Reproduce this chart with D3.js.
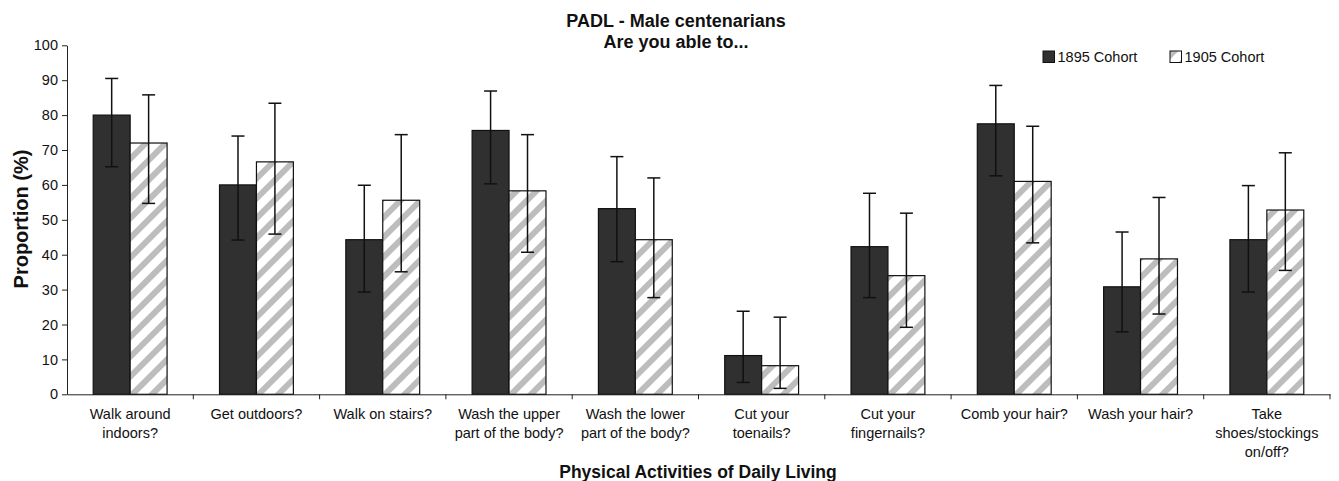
<!DOCTYPE html>
<html>
<head>
<meta charset="utf-8">
<script src="https://cdn.jsdelivr.net/npm/d3@7"></script>
<style>
  body { margin: 0; background: #fff; }
  text { font-family: "Liberation Sans", Arial, sans-serif; fill: #111; }
</style>
</head>
<body>
<svg id="chart"></svg>
<script>
// chart data
var categories = ["Walk around indoors?", "Get outdoors?", "Walk on stairs?", "Wash the upper part of the body?",
  "Wash the lower part of the body?", "Cut your toenails?", "Cut your fingernails?", "Comb your hair?",
  "Wash your hair?", "Take shoes/stockings on/off?"];
var labelLines = [["Walk around", "indoors?"], ["Get outdoors?"], ["Walk on stairs?"], ["Wash the upper", "part of the body?"],
  ["Wash the lower", "part of the body?"], ["Cut your", "toenails?"], ["Cut your", "fingernails?"], ["Comb your hair?"],
  ["Wash your hair?"], ["Take", "shoes/stockings", "on/off?"]];
var cohorts = ["1895 Cohort", "1905 Cohort"];
var values1895 = [80, 60, 44.3, 75.6, 53.2, 11.1, 42.3, 77.5, 30.8, 44.3];
var lower1895 = [65.2, 44.2, 29.3, 60.3, 38.0, 3.4, 27.7, 62.6, 17.9, 29.3];
var upper1895 = [90.5, 74.0, 59.9, 86.9, 68.1, 23.8, 57.6, 88.5, 46.5, 59.8];
var values1905 = [72.0, 66.6, 55.6, 58.3, 44.3, 8.2, 34.0, 61.0, 38.8, 52.8];
var lower1905 = [54.7, 45.9, 35.1, 40.7, 27.7, 1.7, 19.2, 43.4, 23.0, 35.5];
var upper1905 = [85.8, 83.4, 74.4, 74.4, 62.0, 22.1, 51.9, 76.8, 56.4, 69.2];
var yTicks = [0, 10, 20, 30, 40, 50, 60, 70, 80, 90, 100];

var width = 1339, height = 481;
var plotLeft = 67, plotRight = 1330, plotTop = 45.3, plotBottom = 394.3;

var svg = d3.select("#chart").attr("width", width).attr("height", height);

// hatch pattern for the 1905 bars
var defs = svg.append("defs");
var pat = defs.append("pattern")
    .attr("id", "hatch")
    .attr("patternUnits", "userSpaceOnUse")
    .attr("width", 14).attr("height", 14)
    .attr("patternTransform", "rotate(45)");
pat.append("rect").attr("width", 14).attr("height", 14).attr("fill", "#fff");
pat.append("rect").attr("x", 0).attr("width", 6).attr("height", 14).attr("fill", "#bdbdbd");

var rows = categories.map(function(c, i) {
  return {
    cat: c,
    bars: [
      {cohort: cohorts[0], v: values1895[i], lo: lower1895[i], hi: upper1895[i]},
      {cohort: cohorts[1], v: values1905[i], lo: lower1905[i], hi: upper1905[i]}
    ]
  };
});

var x0 = d3.scaleBand().domain(categories).range([plotLeft, plotRight]).padding(0);
var x1 = d3.scaleBand().domain(cohorts).range([0, x0.bandwidth()]).paddingInner(0).paddingOuter(0.71);
var y = d3.scaleLinear().domain([0, 100]).range([plotBottom, plotTop]);

// y axis
var yAxis = d3.axisLeft(y).tickValues(yTicks).tickSize(5).tickSizeOuter(0).tickPadding(4);
var yG = svg.append("g").attr("transform", "translate(" + plotLeft + ",0)").call(yAxis);
yG.selectAll("text").style("font-size", "14.5px").attr("fill", "#111");
yG.selectAll("line, path").attr("stroke", "#222");

// bars
var groups = svg.append("g").selectAll("g")
    .data(rows)
    .join("g")
    .attr("transform", function(d) { return "translate(" + x0(d.cat) + ",0)"; });

groups.selectAll("rect")
    .data(function(d) { return d.bars; })
    .join("rect")
    .attr("x", function(d) { return x1(d.cohort); })
    .attr("y", function(d) { return y(d.v); })
    .attr("width", x1.bandwidth())
    .attr("height", function(d) { return y(0) - y(d.v); })
    .attr("fill", function(d) { return d.cohort == cohorts[0] ? "#303030" : "url(#hatch)"; })
    .attr("stroke", "#111")
    .attr("stroke-width", 1.2);

// error bars
var cap = 6.5;
var err = groups.selectAll("g.err")
    .data(function(d) { return d.bars; })
    .join("g")
    .attr("class", "err")
    .attr("stroke", "#111")
    .attr("stroke-width", 1.5);
err.append("line")
    .attr("x1", function(d) { return x1(d.cohort) + x1.bandwidth() / 2; })
    .attr("x2", function(d) { return x1(d.cohort) + x1.bandwidth() / 2; })
    .attr("y1", function(d) { return y(d.lo); })
    .attr("y2", function(d) { return y(d.hi); });
err.append("line")
    .attr("x1", function(d) { return x1(d.cohort) + x1.bandwidth() / 2 - cap; })
    .attr("x2", function(d) { return x1(d.cohort) + x1.bandwidth() / 2 + cap; })
    .attr("y1", function(d) { return y(d.hi); })
    .attr("y2", function(d) { return y(d.hi); });
err.append("line")
    .attr("x1", function(d) { return x1(d.cohort) + x1.bandwidth() / 2 - cap; })
    .attr("x2", function(d) { return x1(d.cohort) + x1.bandwidth() / 2 + cap; })
    .attr("y1", function(d) { return y(d.lo); })
    .attr("y2", function(d) { return y(d.lo); });

// x axis
var xAxis = d3.axisBottom(x0).tickSize(0).tickSizeOuter(0).tickFormat("");
var xG = svg.append("g").attr("transform", "translate(0," + plotBottom + ")").call(xAxis);
xG.select("path").attr("stroke", "#222");
// ticks sit on the category boundaries
xG.selectAll("line.bound")
    .data(categories)
    .join("line")
    .attr("class", "bound")
    .attr("x1", function(d) { return x0(d) + x0.bandwidth(); })
    .attr("x2", function(d) { return x0(d) + x0.bandwidth(); })
    .attr("y1", 0).attr("y2", 5)
    .attr("stroke", "#222");

// category labels
var lab = svg.append("g").selectAll("text")
    .data(categories)
    .join("text")
    .attr("text-anchor", "middle")
    .style("font-size", "14.5px")
    .attr("transform", function(d) { return "translate(" + (x0(d) + x0.bandwidth() / 2) + "," + 419 + ")"; });
lab.selectAll("tspan")
    .data(function(d, i) { return labelLines[i]; })
    .join("tspan")
    .attr("x", 0)
    .attr("y", function(d, i) { return i * 19; })
    .text(function(d) { return d; });

// titles
svg.append("text").attr("x", 676).attr("y", 27).attr("text-anchor", "middle")
    .style("font-size", "18px").style("font-weight", "bold").text("PADL - Male centenarians");
svg.append("text").attr("x", 676).attr("y", 48).attr("text-anchor", "middle")
    .style("font-size", "18px").style("font-weight", "bold").text("Are you able to...");
svg.append("text").attr("x", 698).attr("y", 478).attr("text-anchor", "middle")
    .style("font-size", "17.5px").style("font-weight", "bold").text("Physical Activities of Daily Living");
svg.append("text")
    .attr("transform", "translate(28,219) rotate(-90)")
    .attr("text-anchor", "middle")
    .style("font-size", "20px").style("font-weight", "bold").text("Proportion (%)");

// legend
var legendX = [1043, 1170];
var leg = svg.append("g").selectAll("g")
    .data(cohorts)
    .join("g")
    .attr("transform", function(d, i) { return "translate(" + legendX[i] + ",51)"; });
leg.append("rect")
    .attr("width", 11.5).attr("height", 11.5)
    .attr("fill", function(d, i) { return i == 0 ? "#303030" : "url(#hatch)"; })
    .attr("stroke", "#111");
leg.append("text")
    .attr("x", 14.5).attr("y", 11)
    .style("font-size", "14.5px")
    .text(function(d) { return d; });
</script>
</body>
</html>
